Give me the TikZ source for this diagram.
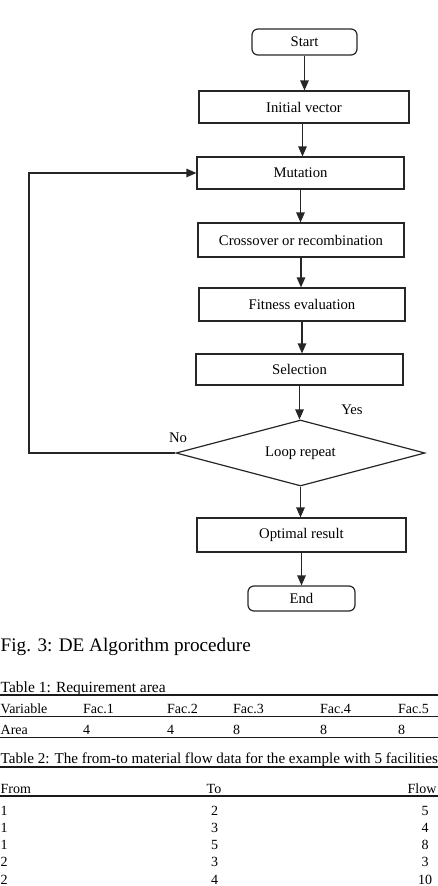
\documentclass[tikz,border=0pt]{standalone}
\usepackage{fontspec}
\setmainfont{Liberation Serif}
\usetikzlibrary{arrows.meta, shapes.geometric}
\definecolor{lineedge}{HTML}{262626}
\definecolor{ruleedge}{HTML}{1A1A1A}

\begin{document}
\begin{tikzpicture}[x=1pt, y=-1pt,
  box/.style={rectangle, draw=lineedge, line width=1.2pt, inner sep=0pt,
              align=center, font=\fontsize{14.7}{17}\selectfont},
  term/.style={box, rounded corners=6pt},
  dec/.style={diamond, draw=lineedge, line width=1.2pt, inner sep=0pt, aspect=3.77,
              minimum width=249pt, minimum height=66pt, font=\fontsize{14.7}{17}\selectfont},
  arr/.style={draw=lineedge, line width=1.2pt, -{Triangle[length=10pt, width=8.5pt]}},
  lab/.style={font=\fontsize{14.7}{17}\selectfont, inner sep=0pt},
  figtxt/.style={font=\fontsize{19.2}{22}\selectfont, inner sep=0pt, anchor=base west},
  tcap/.style={font=\fontsize{15.5}{18}\selectfont, inner sep=0pt, anchor=base west},
  cell/.style={font=\fontsize{14}{16}\selectfont, inner sep=0pt, anchor=base west},
  ccell/.style={font=\fontsize{14}{16}\selectfont, inner sep=0pt, anchor=base},
  rul/.style={draw=ruleedge, line width=1.5pt},
]
\useasboundingbox (0,0) rectangle (438,886);
% ---- flowchart ----
\node[term, minimum width=105pt, minimum height=26pt] (start) at (304.5, 42) {Start};
\node[box, minimum width=210pt, minimum height=32pt] (init) at (304, 107) {Initial vector};
\node[box, minimum width=207pt, minimum height=32pt] (mut) at (300.5, 173) {Mutation};
\node[box, minimum width=206pt, minimum height=34pt] (cross) at (301, 240) {Crossover or recombination};
\node[box, minimum width=206pt, minimum height=33pt] (fit) at (302, 304.5) {Fitness evaluation};
\node[box, minimum width=207pt, minimum height=31pt] (sel) at (299.5, 369.5) {Selection};
\node[dec] (loop) at (300.5, 453) {Loop repeat};
\node[box, minimum width=209pt, minimum height=34pt] (opt) at (301.5, 535) {Optimal result};
\node[term, minimum width=107pt, minimum height=25pt] (end) at (301.5, 598.5) {End};
% ---- main flow ----
\draw[arr] (start.south) -- (start.south |- init.north);
\draw[arr] ([xshift=-1.5pt]init.south) -- ([xshift=-1.5pt]init.south |- mut.north);
\draw[arr] (mut.south) -- (mut.south |- cross.north);
\draw[arr] (cross.south) -- (cross.south |- fit.north);
\draw[arr] (fit.south) -- (fit.south |- sel.north);
\draw[arr] (sel.south) -- (sel.south |- loop.north);
\draw[arr] (loop.south) -- (loop.south |- opt.north);
\draw[arr] (opt.south) -- (opt.south |- end.north);
% ---- feedback loop: No -> back to mutation ----
\coordinate (back) at (29, 453);
\draw[arr] (loop.west) -- (back) |- (mut.west);
\node[lab] (no) at (178, 438) {No};
\node[lab] (yes) at (352, 410) {Yes};
% ---- caption ----
\node[figtxt] (figcap) at (0.5, 651.5) {Fig. 3: DE Algorithm procedure};
% ---- table 1 ----
\node[tcap] (t1cap) at (0.5, 692) {Table 1: Requirement area};
\draw[rul] (0, 695) -- (438, 695);
\draw[rul] (0, 716.5) -- (438, 716.5);
\draw[rul] (0, 737.5) -- (438, 737.5);
\node[cell] (hvar) at (0.5, 713) {Variable};
\node[cell] (hf1) at (83, 713) {Fac.1};
\node[cell] (hf2) at (167, 713) {Fac.2};
\node[cell] (hf3) at (233, 713) {Fac.3};
\node[cell] (hf4) at (320, 713) {Fac.4};
\node[cell] (hf5) at (398, 713) {Fac.5};
\node[cell] (area) at (0.5, 734) {Area};
\node[cell] (a1) at (83, 734) {4};
\node[cell] (a2) at (167, 734) {4};
\node[cell] (a3) at (233, 734) {8};
\node[cell] (a4) at (320, 734) {8};
\node[cell] (a5) at (398, 734) {8};
% ---- table 2 ----
\node[tcap, font=\fontsize{15.1}{18}\selectfont] (t2cap) at (0.5, 763) {Table 2: The from-to material flow data for the example with 5 facilities};
\draw[rul] (0, 767) -- (438, 767);
\draw[rul] (0, 796) -- (438, 796);
\node[cell] (hfrom) at (0.5, 793) {From};
\node[ccell] (hto) at (214, 793) {To};
\node[ccell] (hflow) at (422, 793) {Flow};
\foreach \f/\t/\w [count=\i] in {1/2/5, 1/3/4, 1/5/8, 2/3/3, 2/4/10} {
  \node[cell] (from\i) at (0.5, 797.75 + 17.25*\i) {\f};
  \node[ccell] (to\i) at (214.5, 797.75 + 17.25*\i) {\t};
  \node[ccell] (flow\i) at (425, 797.75 + 17.25*\i) {\w};
}
\end{tikzpicture}
\end{document}
